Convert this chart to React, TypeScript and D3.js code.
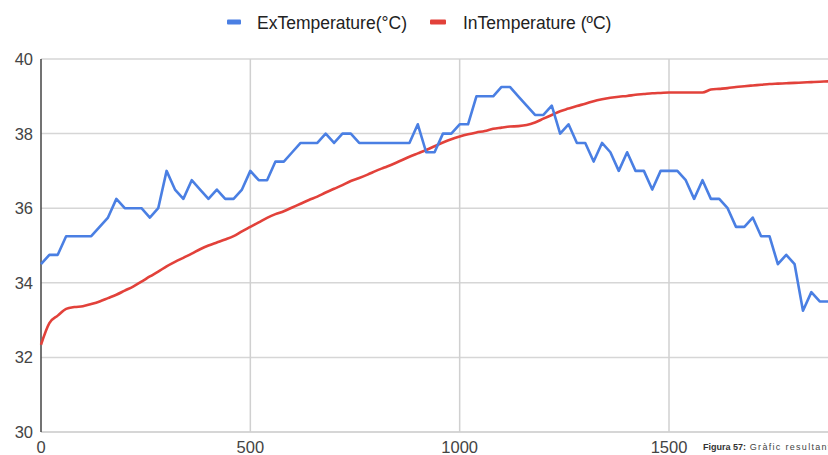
import React from "react";
import * as d3 from "d3";

const STEP = 20;
const exTemperature: number[] = [
  34.5, 34.75, 34.75, 35.25, 35.25, 35.25, 35.25, 35.5, 35.75, 36.25,
  36, 36, 36, 35.75, 36, 37, 36.5, 36.25, 36.75, 36.5,
  36.25, 36.5, 36.25, 36.25, 36.5, 37, 36.75, 36.75, 37.25, 37.25,
  37.5, 37.75, 37.75, 37.75, 38, 37.75, 38, 38, 37.75, 37.75,
  37.75, 37.75, 37.75, 37.75, 37.75, 38.25, 37.5, 37.5, 38, 38,
  38.25, 38.25, 39, 39, 39, 39.25, 39.25, 39, 38.75, 38.5,
  38.5, 38.75, 38, 38.25, 37.75, 37.75, 37.25, 37.75, 37.5, 37,
  37.5, 37, 37, 36.5, 37, 37, 37, 36.75, 36.25, 36.75,
  36.25, 36.25, 36, 35.5, 35.5, 35.75, 35.25, 35.25, 34.5, 34.75,
  34.5, 33.25, 33.75, 33.5, 33.5,
];
const inTemperature: number[] = [
  32.34, 32.92, 33.12, 33.3, 33.35, 33.37, 33.43, 33.5, 33.59, 33.68,
  33.79, 33.9, 34.03, 34.17, 34.3, 34.44, 34.56, 34.67, 34.78, 34.9,
  35.0, 35.08, 35.16, 35.25, 35.38, 35.5, 35.62, 35.74, 35.84, 35.92,
  36.02, 36.12, 36.22, 36.31, 36.42, 36.52, 36.62, 36.73, 36.81, 36.9,
  37.0, 37.09, 37.18, 37.28, 37.38, 37.47, 37.56, 37.66, 37.76, 37.85,
  37.92, 37.98, 38.03, 38.07, 38.13, 38.16, 38.19, 38.2, 38.23, 38.3,
  38.4, 38.5, 38.6, 38.67, 38.74, 38.8, 38.87, 38.92, 38.96, 38.99,
  39.01, 39.04, 39.06, 39.08, 39.09, 39.1, 39.1, 39.1, 39.1, 39.1,
  39.18, 39.2, 39.22, 39.25, 39.27, 39.29, 39.31, 39.33, 39.34, 39.35,
  39.36, 39.37, 39.38, 39.39, 39.4,
];
const yTicks = [30, 32, 34, 36, 38, 40];
const xTicks = [0, 500, 1000, 1500];
const seriesNames = ["ExTemperature(°C)", "InTemperature (ºC)"];
const seriesColors = ["#4a7fe3", "#e2413a"];
const captionBold = "Figura 57:";
const captionRest = " Gràfic resultant";

const FONT = "'Liberation Sans', Arial, sans-serif";

export default function App() {
  const W = 828;
  const H = 455;
  const x = d3.scaleLinear().domain([0, 1500]).range([41, 669]);
  const y = d3.scaleLinear().domain([30, 40]).range([432, 59]);

  const line = d3
    .line<number>()
    .x((_, i) => x(i * STEP))
    .y((d) => y(d));
  const smooth = d3
    .line<number>()
    .x((_, i) => x(i * STEP))
    .y((d) => y(d))
    .curve(d3.curveMonotoneX);

  return (
    <div style={{ position: "absolute", left: 0, top: 0 }}>
      <svg width={W} height={H} style={{ display: "block", background: "#fff" }}>
        <rect width={W} height={H} fill="#fff" />
        {yTicks.map((t) => (
          <line
            key={"h" + t}
            x1={41}
            x2={W}
            y1={y(t)}
            y2={y(t)}
            stroke={t === 30 ? "#c8c8c8" : "#d6d6d6"}
            strokeWidth={1.5}
          />
        ))}
        {xTicks.slice(1).map((t) => (
          <line
            key={"v" + t}
            x1={x(t)}
            x2={x(t)}
            y1={y(40)}
            y2={y(30)}
            stroke="#d0d0d0"
            strokeWidth={1.5}
          />
        ))}
        <line x1={41} x2={41} y1={y(40)} y2={y(30)} stroke="#444" strokeWidth={1.5} />

        {yTicks.map((t) => (
          <text
            key={"yl" + t}
            x={33}
            y={y(t)}
            dy="0.36em"
            textAnchor="end"
            fontFamily={FONT}
            fontSize={16.5}
            fill="#444"
          >
            {t}
          </text>
        ))}
        {xTicks.map((t) => (
          <text
            key={"xl" + t}
            x={x(t)}
            y={453}
            textAnchor="middle"
            fontFamily={FONT}
            fontSize={16.5}
            fill="#444"
          >
            {t}
          </text>
        ))}

        <path d={smooth(inTemperature) || ""} fill="none" stroke={seriesColors[1]} strokeWidth={2.6} strokeLinejoin="round" />
        <path d={line(exTemperature) || ""} fill="none" stroke={seriesColors[0]} strokeWidth={2.6} strokeLinejoin="round" />

        <rect x={227} y={19.5} width={14} height={5} rx={1} fill={seriesColors[0]} />
        <text x={257} y={28.5} fontFamily={FONT} fontSize={17.5} fill="#222">
          {seriesNames[0]}
        </text>
        <rect x={430} y={19.5} width={16} height={5} rx={1} fill={seriesColors[1]} />
        <text x={463} y={28.5} fontFamily={FONT} fontSize={17.5} fill="#222">
          {seriesNames[1]}
        </text>

        <text x={703} y={450} fontFamily={FONT} fontSize={9} fill="#444">
          <tspan fontWeight="bold" fill="#333">{captionBold}</tspan>
          <tspan letterSpacing={1.3}>{captionRest}</tspan>
        </text>
      </svg>
    </div>
  );
}
